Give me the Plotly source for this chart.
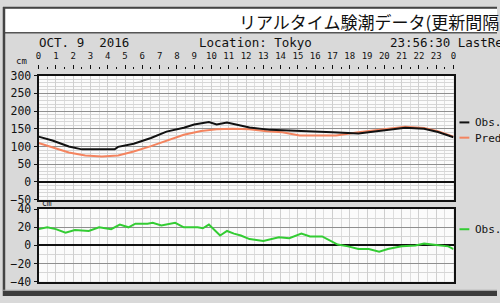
import plotly.graph_objects as go

W, H = 500, 303

# ---- data ----
obs_hours = [0, 0.8, 1.75, 2.5, 3.1, 4.4, 4.6, 5.5, 6.5, 7.4, 8.4, 9.0, 9.85, 10.3, 10.9, 11.7,
             12.2, 13.4, 14.7, 15.7, 17.0, 18.5, 19.8, 21.2, 22.3, 23.1, 24]
obs_tide = [128, 117, 100, 92, 92, 92, 99, 108, 124, 142, 153, 162, 169, 162, 168, 159,
            154, 147, 144, 141, 140, 137, 144, 153, 150, 141, 126]

pred_hours = [0, 0.8, 1.75, 2.7, 3.66, 4.6, 5.5, 6.5, 7.4, 8.4, 9.4, 10.3, 11.2, 12.2, 13.2,
              14.1, 15.1, 16.2, 17.2, 18.5, 19.8, 21.2, 22.3, 23.1, 24]
pred_tide = [110, 97, 83, 75, 72, 75, 86, 101, 117, 133, 144, 149, 150, 149, 143,
             140, 131, 130, 131, 140, 147, 156, 152, 143, 128]

res_hours = [0, 0.5, 1.0, 1.56, 2.1, 2.9, 3.5, 4.2, 4.7, 5.2, 5.6, 6.3, 6.6, 7.1, 7.9, 8.4,
             9.2, 9.5, 9.85, 10.1, 10.5, 10.9, 11.3, 11.7, 12.2, 13.0, 13.9, 14.5, 15.2, 15.7,
             16.4, 17.3, 17.9, 18.5, 19.1, 19.7, 20.2, 21.0, 21.8, 22.3, 23.1, 23.7, 24]
residual = [18, 20, 18, 14, 17, 16, 20, 18, 23, 20, 24, 24, 25, 22, 25, 20,
            20, 19, 23, 18, 11, 16, 13, 11, 7, 5, 9, 8, 13, 10,
            10, 1, -1, -4, -4, -7, -4, -1, 0, 2, 0, -1, -4]

hour_ticks = list(range(25))
hour_labels = [str(h) for h in range(24)] + ["0"]
upper_ticks = [300, 250, 200, 150, 100, 50, 0, -50]
lower_ticks = [40, 20, 0, -20, -40]

# ---- helpers (pixel -> paper) ----
def px(x):
    return x / W

def py(y):
    return 1 - y / H

BG = "#d9d9d9"
MONO = "DejaVu Sans Mono"

fig = go.Figure()
fig.add_trace(go.Scatter(x=pred_hours, y=pred_tide, mode="lines",
                         line=dict(color="#f4845f", width=2), xaxis="x", yaxis="y",
                         name="Pred", showlegend=False))
fig.add_trace(go.Scatter(x=obs_hours, y=obs_tide, mode="lines",
                         line=dict(color="#111111", width=2), xaxis="x", yaxis="y",
                         name="Obs.", showlegend=False))
fig.add_trace(go.Scatter(x=res_hours, y=residual, mode="lines",
                         line=dict(color="#33cc33", width=2), xaxis="x2", yaxis="y2",
                         name="Obs.", showlegend=False))
# invisible trace for the hour axis on top
fig.add_trace(go.Scatter(x=[0, 24], y=[0, 0], mode="lines", line=dict(width=0),
                         xaxis="x3", yaxis="y", showlegend=False, hoverinfo="skip"))

xdom = [px(36), px(456)]
grid_x = dict(range=[0, 24], domain=xdom, showticklabels=False, ticks="",
              dtick=1, showgrid=True, gridcolor="#cfcfcf", gridwidth=1,
              minor=dict(dtick=0.5, showgrid=True, gridcolor="#dedede"),
              showline=True, mirror=True, linecolor="#111111", linewidth=2,
              zeroline=False, fixedrange=True)

fig.update_layout(
    width=W, height=H, margin=dict(l=0, r=0, t=0, b=0),
    paper_bgcolor=BG, plot_bgcolor="#fbfbfb",
    xaxis=dict(grid_x, anchor="y"),
    xaxis2=dict(grid_x, anchor="y2"),
    xaxis3=dict(range=[0, 24], domain=xdom, overlaying="x", anchor="free",
                position=py(64.5), side="top", showgrid=False, zeroline=False,
                showline=False, tickvals=hour_ticks, ticktext=hour_labels,
                ticks="outside", ticklen=4, tickwidth=1, tickcolor="#111111",
                ticklabelstandoff=2,
                minor=dict(dtick=0.5, ticks="outside", ticklen=2, tickcolor="#111111",
                           showgrid=False),
                tickfont=dict(family=MONO, size=9, color="#111111")),
    yaxis=dict(range=[-50, 300], domain=[py(202), py(72)], anchor="x",
               tickvals=upper_ticks, ticks="outside", ticklen=3, tickcolor="#111111",
               tickfont=dict(family=MONO, size=11.5, color="#111111"),
               showgrid=True, gridcolor="#8f8f8f", gridwidth=1,
               minor=dict(dtick=10, showgrid=True, gridcolor="#d6d6d6"),
               zeroline=True, zerolinecolor="#111111", zerolinewidth=1.5,
               showline=True, mirror=True, linecolor="#111111", linewidth=2,
               fixedrange=True),
    yaxis2=dict(range=[-40, 40], domain=[py(288), py(212)], anchor="x2",
                tickvals=lower_ticks, ticks="outside", ticklen=3, tickcolor="#111111",
                tickfont=dict(family=MONO, size=11.5, color="#111111"),
                showgrid=True, gridcolor="#8f8f8f", gridwidth=1,
                minor=dict(dtick=10, showgrid=True, gridcolor="#d6d6d6"),
                zeroline=True, zerolinecolor="#111111", zerolinewidth=1.5,
                showline=True, mirror=True, linecolor="#111111", linewidth=2,
                fixedrange=True),
)

shapes = [
    # title bar
    dict(type="rect", xref="paper", yref="paper", x0=px(2), x1=px(500), y0=py(27), y1=py(2),
         fillcolor="#ffffff", line=dict(width=0), layer="below"),
    dict(type="line", xref="paper", yref="paper", x0=0, x1=1, y0=py(27), y1=py(27),
         line=dict(color="#555555", width=1.5)),
    # outer frame
    dict(type="line", xref="paper", yref="paper", x0=0, x1=1, y0=py(0.8), y1=py(0.8),
         line=dict(color="#444444", width=2)),
    dict(type="line", xref="paper", yref="paper", x0=px(1), x1=px(1), y0=0, y1=1,
         line=dict(color="#444444", width=2.5)),
    dict(type="rect", xref="paper", yref="paper", x0=0, x1=1, y0=0, y1=py(297.5),
         fillcolor="#3c3c3c", line=dict(width=0)),
    dict(type="line", xref="paper", yref="paper", x0=0, x1=1, y0=py(297), y1=py(297),
         line=dict(color="#a0a0a0", width=1)),
    # legend lines
    dict(type="line", xref="paper", yref="paper", x0=px(462), x1=px(472), y0=py(121), y1=py(121),
         line=dict(color="#111111", width=2)),
    dict(type="line", xref="paper", yref="paper", x0=px(462), x1=px(472), y0=py(137), y1=py(137),
         line=dict(color="#f4845f", width=2)),
    dict(type="line", xref="paper", yref="paper", x0=px(462), x1=px(472), y0=py(233), y1=py(233),
         line=dict(color="#33cc33", width=2)),
]
fig.update_layout(shapes=shapes)

def ann(text, x, y, size, family=MONO, xanchor="left", color="#111111"):
    return dict(text=text, x=px(x), y=py(y), xref="paper", yref="paper",
                xanchor=xanchor, yanchor="middle", showarrow=False,
                font=dict(family=family, size=size, color=color))

annotations = [
    ann("リアルタイム験潮データ(更新間隔", 237, 15.5, 17, family="Noto Sans CJK JP"),
    ann("OCT. 9  2016", 34, 37.5, 12.5),
    ann("Location: Tokyo", 196, 37.5, 12.5),
    ann("23:56:30 LastRe", 390, 37.5, 12.5),
    ann("cm", 11, 57, 9),
    ann("cm", 37, 206.5, 8),
    ann("Obs.", 476, 121.5, 11),
    ann("Pred", 476, 137.5, 11),
    ann("Obs.", 476, 233.5, 11),
]
fig.update_layout(annotations=annotations)

fig.write_html("out.html")
